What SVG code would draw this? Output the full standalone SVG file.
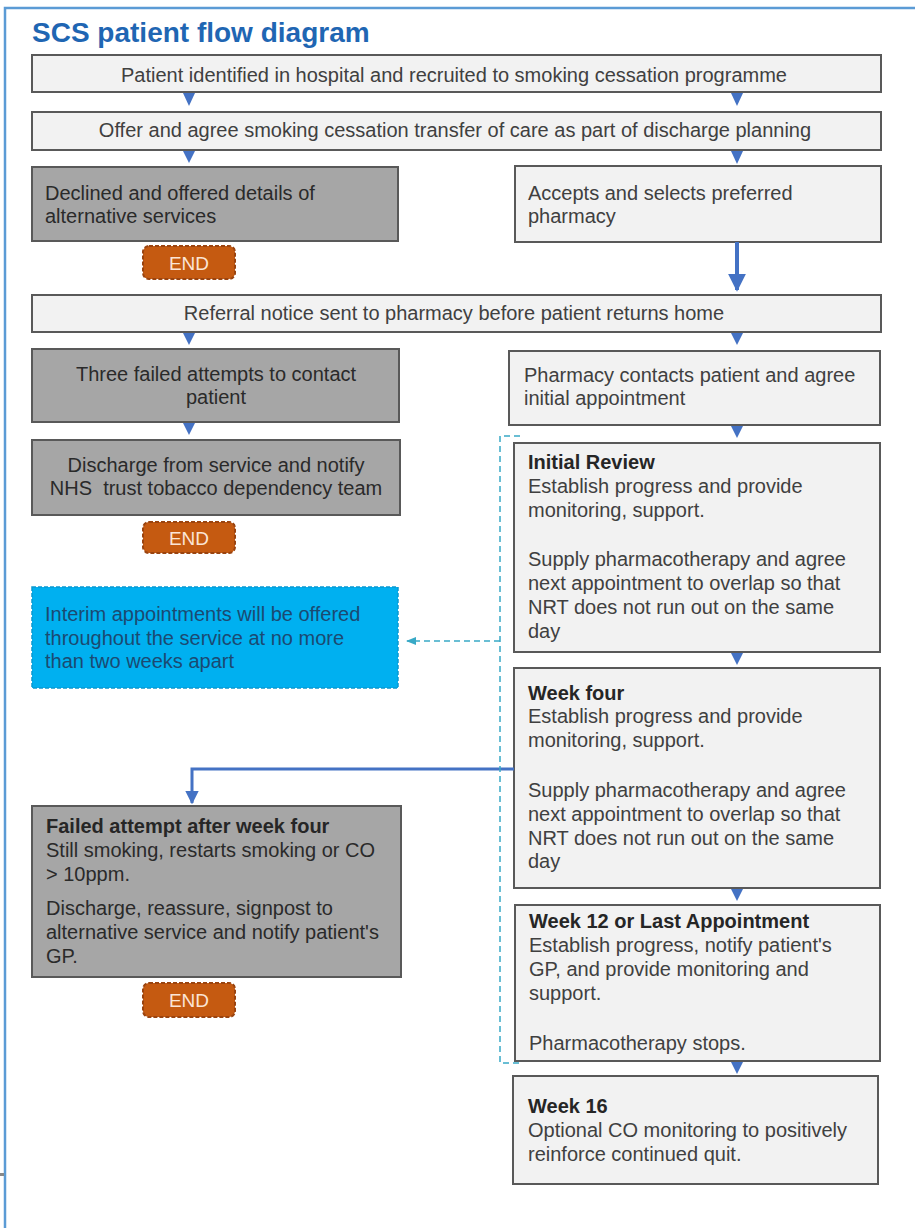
<svg xmlns="http://www.w3.org/2000/svg" width="915" height="1228" viewBox="0 0 915 1228">
<defs>
<style>
text{font-family:"Liberation Sans",Arial,sans-serif;font-size:20px;fill:#404040}
.t{font-size:28px;font-weight:bold;fill:#1f66b3}
.b{font-weight:bold;fill:#262626}
.m{text-anchor:middle}
.dk{fill:#2a2a2a}
.lt{fill:#f2f2f2;stroke:#595959;stroke-width:2}
.gr{fill:#a6a6a6;stroke:#595959;stroke-width:2}
.end rect{fill:#c55a11;stroke:#9a4410;stroke-width:2;stroke-dasharray:4 2}
.end text{fill:#fbe5d6;text-anchor:middle;font-size:19px}
.tri{fill:#4472c4}
.blue{fill:none;stroke:#4472c4;stroke-width:3}
.dash{fill:none;stroke:#38a9c6;stroke-width:1.5;stroke-dasharray:6 4}
</style>
<marker id="ah" viewBox="0 0 10 10" refX="9" refY="5" markerWidth="4.5" markerHeight="4.5" orient="auto" markerUnits="strokeWidth">
<path d="M0,0 L10,5 L0,10 z" fill="#4472c4"/>
</marker>
<marker id="ahd" viewBox="0 0 10 10" refX="9" refY="5" markerWidth="7" markerHeight="7" orient="auto" markerUnits="strokeWidth">
<path d="M0,1 L10,5 L0,9 z" fill="#38a9c6"/>
</marker>
</defs>
<rect x="0" y="0" width="915" height="1228" fill="#ffffff"/>
<path d="M5,1228 V8 H915" fill="none" stroke="#5b9bd5" stroke-width="2.5"/>
<rect x="0" y="1173" width="4" height="3" fill="#888888"/>
<text class="t" x="32" y="42">SCS patient flow diagram</text>

<g id="n1"><rect class="lt" x="32" y="55" width="849" height="37"/><text class="m" x="454" y="82">Patient identified in hospital and recruited to smoking cessation programme</text></g>
<g id="n2"><rect class="lt" x="32" y="112" width="849" height="38"/><text class="m" x="455" y="137">Offer and agree smoking cessation transfer of care as part of discharge planning</text></g>
<g id="n3"><rect class="gr" x="32" y="167" width="366" height="74"/><text class="dk" x="45" y="200">Declined and offered details of</text><text class="dk" x="45" y="223">alternative services</text></g>
<g id="end1" class="end"><rect x="143" y="246" width="92" height="33" rx="6"/><text x="189" y="270">END</text></g>
<g id="n4"><rect class="lt" x="515" y="166" width="366" height="76"/><text x="528" y="200">Accepts and selects preferred</text><text x="528" y="223">pharmacy</text></g>
<g id="n5"><rect class="lt" x="32" y="295" width="849" height="37"/><text class="m" x="454" y="320">Referral notice sent to pharmacy before patient returns home</text></g>
<g id="n6"><rect class="gr" x="32" y="349" width="367" height="73"/><text class="m dk" x="216" y="381">Three failed attempts to contact</text><text class="m dk" x="216" y="404">patient</text></g>
<g id="n7"><rect class="lt" x="509" y="351" width="371" height="74"/><text x="524" y="382">Pharmacy contacts patient and agree</text><text x="524" y="405">initial appointment</text></g>
<g id="n8"><rect class="gr" x="32" y="440" width="368" height="75"/><text class="m dk" x="216" y="472">Discharge from service and notify</text><text class="m dk" x="216" y="495" xml:space="preserve">NHS  trust tobacco dependency team</text></g>
<g id="end2" class="end"><rect x="143" y="522" width="92" height="31" rx="6"/><text x="189" y="545">END</text></g>
<g id="n9"><rect x="32" y="587" width="366" height="101" fill="#00b0f0" stroke="#0a98cf" stroke-width="1.5" stroke-dasharray="4 2"/><text x="45" y="621" style="fill:#1b4a72">Interim appointments will be offered</text><text x="45" y="645" style="fill:#1b4a72">throughout the service at no more</text><text x="45" y="668" style="fill:#1b4a72">than two weeks apart</text></g>
<g id="n10"><rect class="lt" x="514" y="443" width="366" height="209"/><text class="b" x="528" y="469">Initial Review</text><text x="528" y="493">Establish progress and provide</text><text x="528" y="517">monitoring, support.</text><text x="528" y="566">Supply pharmacotherapy and agree</text><text x="528" y="590">next appointment to overlap so that</text><text x="528" y="614">NRT does not run out on the same</text><text x="528" y="638">day</text></g>
<g id="n11"><rect class="lt" x="514" y="668" width="366" height="220"/><text class="b" x="528" y="700">Week four</text><text x="528" y="723">Establish progress and provide</text><text x="528" y="747">monitoring, support.</text><text x="528" y="797">Supply pharmacotherapy and agree</text><text x="528" y="821">next appointment to overlap so that</text><text x="528" y="845">NRT does not run out on the same</text><text x="528" y="868">day</text></g>
<g id="n12"><rect class="gr" x="32" y="806" width="369" height="171"/><text class="b" x="46" y="833">Failed attempt after week four</text><text class="dk" x="46" y="857">Still smoking, restarts smoking or CO</text><text class="dk" x="46" y="881">&gt; 10ppm.</text><text class="dk" x="46" y="915">Discharge, reassure, signpost to</text><text class="dk" x="46" y="939">alternative service and notify patient's</text><text class="dk" x="46" y="963">GP.</text></g>
<g id="end3" class="end"><rect x="143" y="983" width="92" height="34" rx="6"/><text x="189" y="1007">END</text></g>
<g id="n13"><rect class="lt" x="515" y="905" width="365" height="156"/><text class="b" x="529" y="928">Week 12 or Last Appointment</text><text x="529" y="952">Establish progress, notify patient's</text><text x="529" y="976">GP, and provide monitoring and</text><text x="529" y="1000">support.</text><text x="529" y="1050">Pharmacotherapy stops.</text></g>
<g id="n14"><rect class="lt" x="513" y="1076" width="365" height="108"/><text class="b" x="528" y="1113">Week 16</text><text x="528" y="1137">Optional CO monitoring to positively</text><text x="528" y="1161">reinforce continued quit.</text></g>

<g id="connectors">
<polygon class="tri" points="183,93 195,93 189,106"/>
<polygon class="tri" points="731,93 743,93 737,106"/>
<polygon class="tri" points="183,151 195,151 189,163"/>
<polygon class="tri" points="731,151 743,151 737,164"/>
<polygon class="tri" points="183,333 195,333 189,345"/>
<polygon class="tri" points="731,333 743,333 737,345"/>
<polygon class="tri" points="183,423 195,423 189,435"/>
<polygon class="tri" points="731,426 743,426 737,438"/>
<polygon class="tri" points="731,653 743,653 737,665"/>
<polygon class="tri" points="731,889 743,889 737,901"/>
<polygon class="tri" points="731,1062 743,1062 737,1074"/>
<path d="M737,242 V290" fill="none" stroke="#4472c4" stroke-width="4" marker-end="url(#ah)"/>
<path class="blue" d="M514,769 H192 V803" marker-end="url(#ah)"/>
<path class="dash" d="M520,436 H500 V1063 H520"/>
<path class="dash" d="M500,641 H407" marker-end="url(#ahd)"/>
</g>
</svg>
